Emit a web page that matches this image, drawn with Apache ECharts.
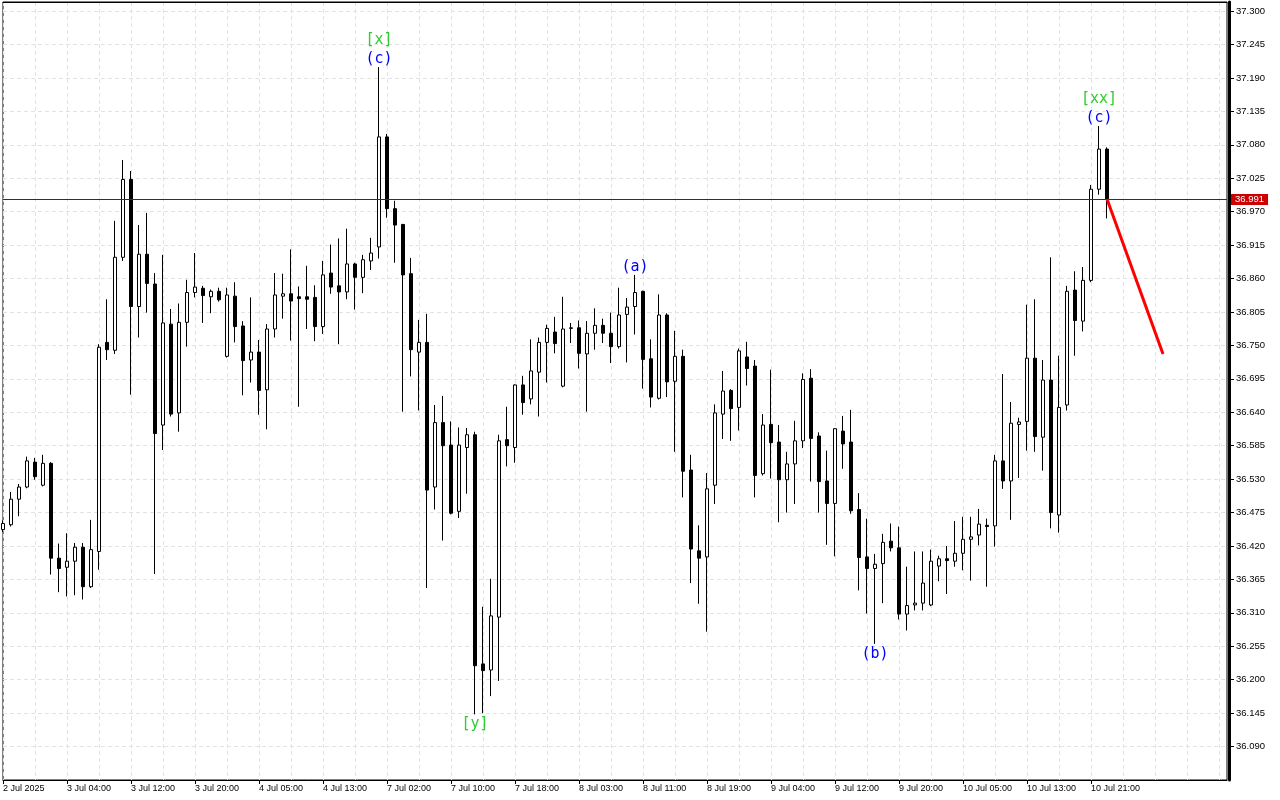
<!DOCTYPE html>
<html><head><meta charset="utf-8">
<script src="https://cdn.jsdelivr.net/npm/echarts@6/dist/echarts.min.js"></script>
<style>html,body{margin:0;padding:0;background:#fff}#c{width:1280px;height:800px}</style>
</head><body><div id="c"></div><script>
const opens = [36.447,36.455,36.497,36.517,36.558,36.520,36.556,36.400,36.385,36.395,36.418,36.353,36.411,36.755,36.742,36.895,37.023,36.814,36.900,36.851,
36.619,36.785,36.639,36.788,36.837,36.844,36.830,36.839,36.732,36.831,36.782,36.726,36.739,36.677,36.777,36.831,36.835,36.830,36.830,36.829,
36.781,36.869,36.848,36.838,36.884,36.862,36.889,36.912,37.093,36.975,36.949,36.868,36.739,36.755,36.517,36.623,36.586,36.477,36.582,36.603,
36.226,36.216,36.303,36.595,36.582,36.685,36.662,36.706,36.755,36.772,36.683,36.778,36.779,36.736,36.770,36.783,36.770,36.748,36.801,36.814,
36.839,36.728,36.663,36.800,36.691,36.732,36.545,36.412,36.402,36.520,36.637,36.676,36.648,36.731,36.716,36.539,36.620,36.591,36.529,36.555,
36.593,36.696,36.601,36.527,36.490,36.609,36.591,36.480,36.402,36.383,36.391,36.428,36.417,36.308,36.323,36.326,36.323,36.387,36.399,36.395,
36.408,36.431,36.438,36.454,36.453,36.560,36.527,36.620,36.625,36.729,36.599,36.693,36.471,36.652,36.841,36.790,36.857,37.007,37.073];
const closes = [36.457,36.497,36.517,36.560,36.534,36.556,36.400,36.383,36.395,36.418,36.353,36.414,36.747,36.743,36.895,37.023,36.814,36.900,36.852,36.605,
36.787,36.637,36.788,36.837,36.846,36.832,36.839,36.825,36.833,36.781,36.725,36.739,36.676,36.777,36.833,36.835,36.823,36.827,36.826,36.781,
36.866,36.846,36.838,36.884,36.862,36.891,36.902,37.093,36.975,36.948,36.866,36.743,36.755,36.512,36.623,36.585,36.474,36.586,36.603,36.223,
36.215,36.305,36.593,36.585,36.685,36.656,36.708,36.755,36.778,36.753,36.777,36.779,36.737,36.770,36.783,36.770,36.748,36.800,36.813,36.837,
36.727,36.665,36.800,36.690,36.732,36.543,36.415,36.400,36.514,36.639,36.675,36.646,36.741,36.712,36.536,36.619,36.590,36.529,36.555,36.593,
36.694,36.597,36.526,36.490,36.613,36.588,36.478,36.401,36.383,36.390,36.426,36.417,36.308,36.322,36.326,36.359,36.395,36.399,36.396,36.408,
36.431,36.435,36.456,36.452,36.560,36.527,36.622,36.624,36.729,36.600,36.693,36.475,36.648,36.839,36.791,36.857,37.007,37.073,36.991];
const lows = [36.443,36.452,36.469,36.515,36.529,36.518,36.373,36.344,36.337,36.339,36.332,36.351,36.381,36.726,36.736,36.889,36.669,36.763,36.804,36.374,
36.578,36.633,36.608,36.748,36.829,36.787,36.803,36.822,36.730,36.755,36.668,36.689,36.636,36.612,36.763,36.794,36.758,36.649,36.777,36.757,
36.769,36.835,36.752,36.826,36.809,36.836,36.874,36.893,36.960,36.886,36.641,36.699,36.643,36.351,36.480,36.429,36.472,36.466,36.506,36.143,
36.145,36.173,36.198,36.551,36.557,36.636,36.653,36.633,36.689,36.737,36.681,36.754,36.712,36.641,36.743,36.754,36.721,36.745,36.722,36.768,
36.679,36.648,36.661,36.665,36.575,36.500,36.359,36.325,36.279,36.489,36.596,36.593,36.610,36.684,36.500,36.536,36.531,36.459,36.475,36.489,
36.581,36.526,36.475,36.422,36.403,36.547,36.473,36.347,36.309,36.259,36.326,36.411,36.299,36.281,36.314,36.314,36.321,36.362,36.341,36.386,
36.380,36.363,36.421,36.353,36.419,36.514,36.463,36.532,36.577,36.575,36.544,36.449,36.442,36.643,36.733,36.773,36.854,36.998,36.959];
const highs = [36.462,36.509,36.522,36.567,36.565,36.570,36.558,36.424,36.441,36.425,36.425,36.463,36.752,36.826,36.955,37.055,37.037,36.948,36.968,36.869,
36.899,36.810,36.819,36.858,36.902,36.848,36.842,36.845,36.845,36.854,36.790,36.829,36.759,36.785,36.869,36.868,36.908,36.847,36.881,36.849,
36.889,36.916,36.926,36.942,36.886,36.899,36.927,37.208,37.098,36.988,36.950,36.894,36.792,36.802,36.652,36.667,36.625,36.615,36.614,36.608,
36.320,36.366,36.603,36.649,36.686,36.700,36.760,36.763,36.784,36.797,36.830,36.787,36.791,36.790,36.811,36.794,36.804,36.845,36.828,36.866,
36.840,36.760,36.834,36.803,36.774,36.743,36.570,36.454,36.540,36.653,36.708,36.678,36.745,36.756,36.726,36.637,36.710,36.619,36.575,36.626,
36.704,36.711,36.607,36.577,36.614,36.634,36.644,36.507,36.465,36.407,36.440,36.457,36.452,36.386,36.411,36.411,36.414,36.404,36.420,36.461,
36.468,36.468,36.481,36.465,36.570,36.703,36.657,36.631,36.817,36.826,36.726,36.895,36.733,36.848,36.872,36.879,37.014,37.111,37.076];
const xTickLabels = ['2 Jul 2025','3 Jul 04:00','3 Jul 12:00','3 Jul 20:00','4 Jul 05:00','4 Jul 13:00','7 Jul 02:00','7 Jul 10:00','7 Jul 18:00',
'8 Jul 03:00','8 Jul 11:00','8 Jul 19:00','9 Jul 04:00','9 Jul 12:00','9 Jul 20:00','10 Jul 05:00','10 Jul 13:00','10 Jul 21:00'];
const totalSlots = 154;
const forecastIdx = [138, 145];
const forecastVals = [36.991, 36.736];
const currentPrice = 36.991;
const waveMarks = [
  {idx: 47, side: 'high', green: '[x]', blue: '(c)'},
  {idx: 79, side: 'high', blue: '(a)'},
  {idx: 59, side: 'low', green: '[y]'},
  {idx: 109, side: 'low', blue: '(b)'},
  {idx: 137, side: 'high', green: '[xx]', blue: '(c)'}
];

const cats = Array.from({length: totalSlots}, (_, i) => String(i));
const candleData = opens.map((o, i) => [o, closes[i], lows[i], highs[i]]);
const isLabelIdx = (i) => i % 8 === 0 && i / 8 < xTickLabels.length;
const AX = 'Liberation Sans, Arial, sans-serif';
const MONO = 'DejaVu Sans Mono, monospace';

function markSeries(side) {
  const marks = waveMarks.filter(m => m.side === side);
  return {
    type: 'scatter', symbol: 'circle', symbolSize: 1, silent: true, z: 10, clip: false,
    data: marks.map(m => ({value: [m.idx, side === 'high' ? highs[m.idx] : lows[m.idx]], m})),
    itemStyle: {color: 'rgba(255,255,255,0)'},
    label: {
      show: true, opacity: 1, position: side === 'high' ? 'top' : 'bottom', distance: side === 'high' ? -2 : 0,
      formatter: (p) => {
        const m = p.data.m; const parts = [];
        if (m.green) parts.push('{g|' + m.green + '}');
        if (m.blue) parts.push('{b|' + m.blue + '}');
        return parts.join('\n');
      },
      rich: {
        g: {color: '#2ecc2e', opacity: 1, fontSize: 15, fontFamily: MONO, lineHeight: 19},
        b: {color: '#0000ff', opacity: 1, fontSize: 15, fontFamily: MONO, lineHeight: 19}
      }
    }
  };
}

const chart = echarts.init(document.getElementById('c'), null, {renderer: 'canvas'});
chart.setOption({
  animation: false,
  backgroundColor: '#ffffff',
  grid: {left: 3, right: 53, top: 2, bottom: 20, show: true, borderColor: '#000', borderWidth: 1, backgroundColor: 'transparent'},
  xAxis: [{
    type: 'category', data: cats, boundaryGap: false,
    axisLine: {lineStyle: {color: '#000', width: 1}},
    axisTick: {show: true, interval: (i) => isLabelIdx(i), length: 4, lineStyle: {color: '#000'}},
    axisLabel: {interval: (i) => isLabelIdx(i), formatter: (v, i) => xTickLabels[i / 8] || '', align: 'left',
      fontSize: 9, color: '#000', margin: 4, fontFamily: AX},
    splitLine: {show: true, interval: (i) => i % 4 === 0, lineStyle: {color: '#e2e2e2', type: [4, 3], width: 1}}
  }, {
    type: 'category', data: cats, boundaryGap: false, position: 'top', z: 5,
    axisLine: {show: true, lineStyle: {color: '#000', width: 1}},
    axisTick: {show: false}, axisLabel: {show: false}, splitLine: {show: false}
  }],
  yAxis: {
    type: 'value', position: 'right', min: 36.035, max: 37.315, interval: 0.055, offset: 2, scale: true,
    axisLine: {show: true, lineStyle: {color: '#000', width: 3}},
    axisTick: {show: true, length: 5, lineStyle: {color: '#000'}},
    axisLabel: {showMinLabel: false, showMaxLabel: false, formatter: (v) => v.toFixed(3), fontSize: 9.5,
      color: '#000', margin: 7, fontFamily: AX},
    splitLine: {show: true, lineStyle: {color: '#e2e2e2', type: [4, 3], width: 1}}
  },
  series: [
    {
      type: 'candlestick', data: candleData, barWidth: 4,
      itemStyle: {color: '#ffffff', color0: '#000000', borderColor: '#000000', borderColor0: '#000000', borderWidth: 1},
      emphasis: {disabled: true},
      markLine: {
        silent: true, symbol: ['none', 'none'], animation: false,
        lineStyle: {color: '#a00000', width: 1, type: 'solid'},
        label: {show: true, position: 'end', distance: 4, formatter: () => currentPrice.toFixed(3),
          backgroundColor: '#cc0000', color: '#fff', fontSize: 9.5, fontFamily: AX, padding: [1, 4, 0, 4]},
        data: [{yAxis: currentPrice}]
      }
    },
    {
      type: 'line', data: forecastIdx.map((x, i) => [x, forecastVals[i]]), symbol: 'none', silent: true,
      lineStyle: {color: '#ff0000', width: 3}, z: 5
    },
    markSeries('high'),
    markSeries('low')
  ]
});
</script></body></html>
